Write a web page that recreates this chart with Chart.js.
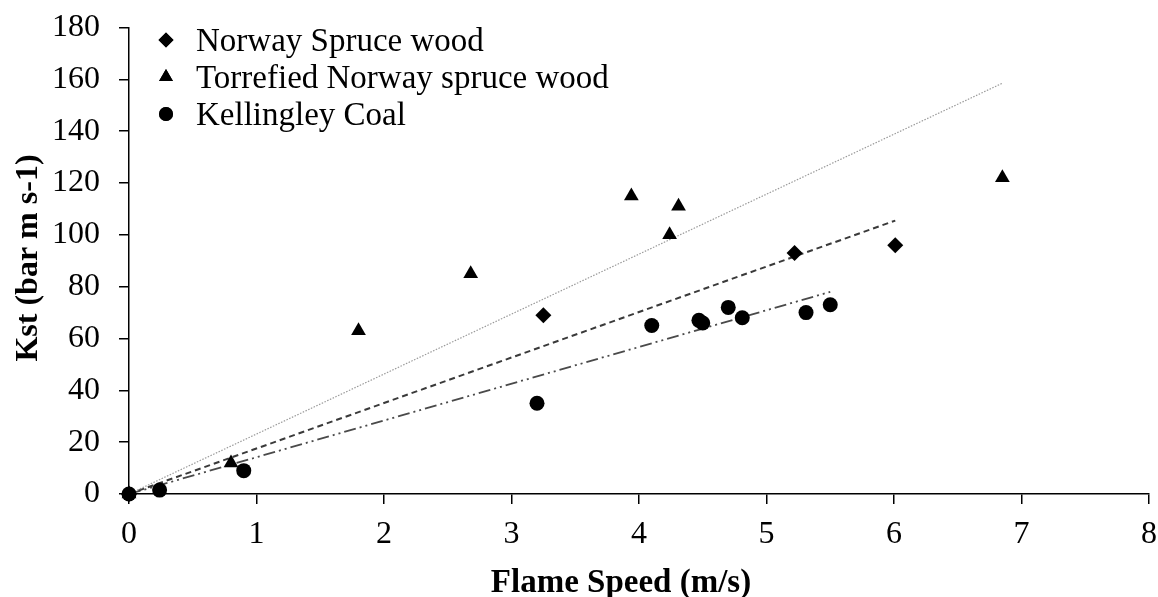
<!DOCTYPE html>
<html>
<head>
<meta charset="utf-8">
<script src="https://cdn.jsdelivr.net/npm/chart.js@4/dist/chart.umd.min.js"></script>
<style>
  body { margin: 0; background: #fff; }
  #chart { display: block; }
</style>
</head>
<body>
<canvas id="chart" width="1158" height="597"></canvas>
<script>
// values
const spruceX = [0, 3.25, 5.22, 6.01];
const spruceY = [0, 69, 93, 96];
const torrX = [0, 0.8, 1.8, 2.68, 3.94, 4.24, 4.31, 6.85];
const torrY = [0, 12, 63, 85, 115, 100, 111, 122];
const coalX = [0, 0.24, 0.9, 3.2, 4.1, 4.47, 4.5, 4.7, 4.81, 5.31, 5.5];
const coalY = [0, 1.5, 9, 35, 65, 67, 66, 72, 68, 70, 73];

// trend line end points (start, end)
const spruceFitX = [0, 6.01];
const spruceFitY = [0, 105.5];
const torrFitX = [0, 6.85];
const torrFitY = [0, 158.5];
const coalFitX = [0, 5.5];
const coalFitY = [0, 78];

const xTicks = [0, 1, 2, 3, 4, 5, 6, 7, 8];
const yTicks = [0, 20, 40, 60, 80, 100, 120, 140, 160, 180];

const xTitle = 'Flame Speed (m/s)';
const yTitle = 'Kst (bar m s-1)';

const FONT = "'Liberation Serif', 'Times New Roman', serif";

const pts = (xs, ys) => xs.map((x, i) => ({ x: x, y: ys[i] }));

const legendItems = [
    { label: 'Norway Spruce wood', style: 'rectRot', r: 7.5 },
    { label: 'Torrefied Norway spruce wood', style: 'triangle', r: 8 },
    { label: 'Kellingley Coal', style: 'circle', r: 7 }
];

// legend inside the plot and the two axis titles
const extras = {
    id: 'extras',
    afterDraw(chart) {
        const ctx = chart.ctx;
        ctx.save();
        ctx.font = '33px ' + FONT;
        ctx.textBaseline = 'middle';
        legendItems.forEach((item, i) => {
            const y = 40 + i * 37;
            ctx.fillStyle = '#000';
            Chart.helpers.drawPoint(ctx, {
                pointStyle: item.style, radius: item.r, rotation: 0, borderWidth: 0
            }, 166, y);
            ctx.fill();
            ctx.fillText(item.label, 196, y + 2);
        });

        ctx.font = 'bold 33px ' + FONT;
        ctx.textAlign = 'center';
        ctx.textBaseline = 'alphabetic';
        ctx.fillText(xTitle, 621, 592);

        ctx.font = 'bold 32px ' + FONT;
        ctx.translate(29, 258);
        ctx.rotate(-Math.PI / 2);
        ctx.textBaseline = 'middle';
        ctx.fillText(yTitle, 0, 0);
        ctx.restore();
    }
};

const pointSet = (data, style, r) => ({
    data: data,
    pointStyle: style,
    pointRadius: r,
    pointBackgroundColor: '#000',
    pointBorderColor: '#000',
    pointBorderWidth: 0,
    showLine: false,
    clip: false,
    order: 0
});

const lineSet = (data, color, width, dash) => ({
    data: data,
    showLine: true,
    pointRadius: 0,
    borderColor: color,
    borderWidth: width,
    borderDash: dash,
    fill: false,
    clip: false,
    order: 1
});

new Chart(document.getElementById('chart'), {
    type: 'scatter',
    data: {
        datasets: [
            lineSet(pts(torrFitX, torrFitY), '#9a9a9a', 1.2, [1.5, 1.5]),
            lineSet(pts(spruceFitX, spruceFitY), '#3a3a3a', 2, [6, 4]),
            lineSet(pts(coalFitX, coalFitY), '#4a4a4a', 1.8, [12, 4, 2, 4, 2, 4]),
            pointSet(pts(spruceX, spruceY), 'rectRot', 8),
            pointSet(pts(torrX, torrY), 'triangle', 8.5),
            pointSet(pts(coalX, coalY), 'circle', 7.5)
        ]
    },
    options: {
        responsive: false,
        animation: false,
        layout: { padding: { top: 27.5, right: 9, left: 0, bottom: 0 } },
        plugins: {
            legend: { display: false },
            tooltip: { enabled: false }
        },
        scales: {
            x: {
                type: 'linear',
                min: 0,
                max: 8,
                afterBuildTicks: (s) => { s.ticks = xTicks.map(v => ({ value: v })); },
                afterFit: (s) => { s.height = 103; s.paddingLeft = 0; s.paddingRight = 0; },
                ticks: {
                    color: '#000',
                    font: { family: FONT, size: 32 },
                    padding: 11
                },
                grid: { drawOnChartArea: false, drawTicks: true, tickLength: 10, color: '#000', lineWidth: 1.5 },
                border: { display: true, color: '#000', width: 1.5 }
            },
            y: {
                type: 'linear',
                min: 0,
                max: 180,
                afterBuildTicks: (s) => { s.ticks = yTicks.map(v => ({ value: v })); },
                afterFit: (s) => { s.width = 129; s.paddingTop = 0; s.paddingBottom = 0; },
                ticks: {
                    color: '#000',
                    font: { family: FONT, size: 32 },
                    padding: 19
                },
                grid: { drawOnChartArea: false, drawTicks: true, tickLength: 10, color: '#000', lineWidth: 1.5 },
                border: { display: true, color: '#000', width: 1.5 }
            }
        }
    },
    plugins: [extras]
});
</script>
</body>
</html>
